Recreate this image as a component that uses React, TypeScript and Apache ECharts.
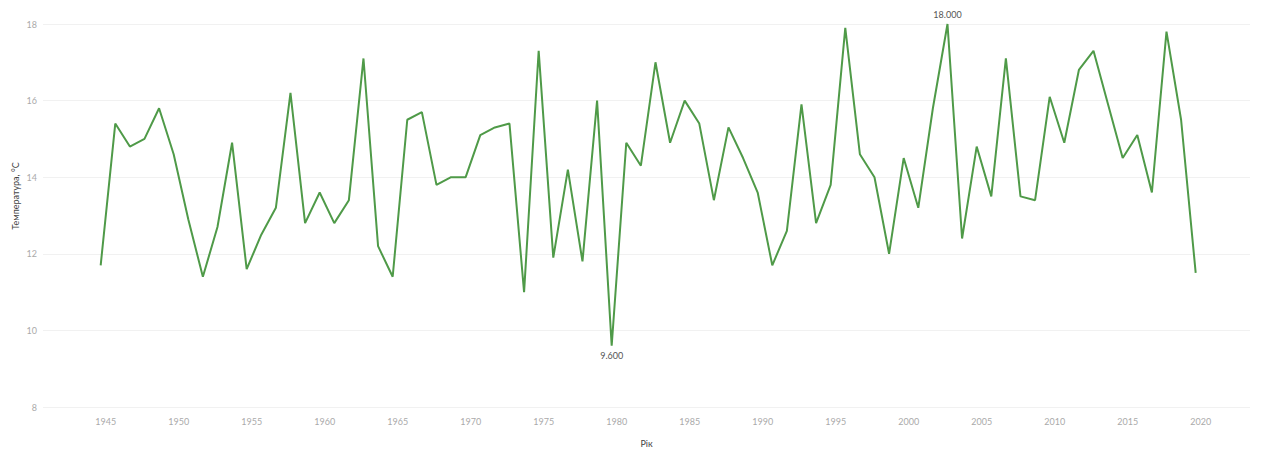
import React, { useEffect, useRef } from "react";
import * as echarts from "echarts";

const years: number[] = [
  1945, 1946, 1947, 1948, 1949, 1950, 1951, 1952, 1953, 1954,
  1955, 1956, 1957, 1958, 1959, 1960, 1961, 1962, 1963, 1964,
  1965, 1966, 1967, 1968, 1969, 1970, 1971, 1972, 1973, 1974,
  1975, 1976, 1977, 1978, 1979, 1980, 1981, 1982, 1983, 1984,
  1985, 1986, 1987, 1988, 1989, 1990, 1991, 1992, 1993, 1994,
  1995, 1996, 1997, 1998, 1999, 2000, 2001, 2002, 2003, 2004,
  2005, 2006, 2007, 2008, 2009, 2010, 2011, 2012, 2013, 2014,
  2015, 2016, 2017, 2018, 2019, 2020,
];

const temperatures: number[] = [
  11.7, 15.4, 14.8, 15.0, 15.8, 14.6, 12.9, 11.4, 12.7, 14.9,
  11.6, 12.5, 13.2, 16.2, 12.8, 13.6, 12.8, 13.4, 17.1, 12.2,
  11.4, 15.5, 15.7, 13.8, 14.0, 14.0, 15.1, 15.3, 15.4, 11.0,
  17.3, 11.9, 14.2, 11.8, 16.0, 9.6, 14.9, 14.3, 17.0, 14.9,
  16.0, 15.4, 13.4, 15.3, 14.5, 13.6, 11.7, 12.6, 15.9, 12.8,
  13.8, 17.9, 14.6, 14.0, 12.0, 14.5, 13.2, 15.8, 18.0, 12.4,
  14.8, 13.5, 17.1, 13.5, 13.4, 16.1, 14.9, 16.8, 17.3, 15.9,
  14.5, 15.1, 13.6, 17.8, 15.5, 11.5,
];

const xTickLabels: number[] = [
  1945, 1950, 1955, 1960, 1965, 1970, 1975, 1980, 1985, 1990,
  1995, 2000, 2005, 2010, 2015, 2020,
];

const yAxisTitle = "Температура, °C";
const xAxisTitle = "Рік";

export default function App() {
  const ref = useRef<HTMLDivElement>(null);

  useEffect(() => {
    if (!ref.current) return;
    const chart = echarts.init(ref.current, null, { renderer: "svg" });

    const iMax = temperatures.indexOf(Math.max(...temperatures));
    const iMin = temperatures.indexOf(Math.min(...temperatures));
    const font = "Lato, 'Noto Sans', sans-serif";

    chart.setOption({
      animation: false,
      backgroundColor: "#ffffff",
      grid: { left: 43, right: 14, top: 24, bottom: 45, containLabel: false },
      xAxis: {
        type: "value",
        min: 1941.05,
        max: 2023.72,
        name: xAxisTitle,
        nameLocation: "middle",
        nameGap: 32,
        nameTextStyle: { color: "#444", fontSize: 9, fontFamily: font },
        axisLine: { show: false },
        axisTick: { show: false },
        splitLine: { show: false },
        axisLabel: {
          customValues: xTickLabels,
          color: "#aaa",
          fontSize: 9,
          fontFamily: font,
          margin: 10,
          padding: [0, 0, 0, 10],
          formatter: (v: number) => String(v),
        },
      },
      yAxis: {
        type: "value",
        min: 8,
        max: 18,
        interval: 2,
        axisLine: { show: false },
        axisTick: { show: false },
        splitLine: { lineStyle: { color: "#f1f1f1", width: 1 } },
        axisLabel: { color: "#aaa", fontSize: 9, fontFamily: font, margin: 6 },
      },
      graphic: [
        {
          type: "text",
          x: 15,
          y: 196,
          rotation: Math.PI / 2,
          style: {
            text: yAxisTitle,
            fill: "#444",
            fontSize: 9,
            fontFamily: font,
            align: "center",
            verticalAlign: "middle",
          },
        },
      ],
      series: [
        {
          type: "line",
          data: years.map((y, i) => [y, temperatures[i]]),
          showSymbol: false,
          lineStyle: { color: "#4f9a48", width: 2 },
          itemStyle: { color: "#4f9a48" },
          markPoint: {
            symbol: "circle",
            symbolSize: 2,
            itemStyle: { color: "rgba(0,0,0,0)" },
            data: [
              {
                coord: [years[iMax], temperatures[iMax]],
                value: temperatures[iMax],
                label: { position: "top", distance: 4 },
              },
              {
                coord: [years[iMin], temperatures[iMin]],
                value: temperatures[iMin],
                label: { position: "bottom", distance: 4 },
              },
            ],
            label: {
              show: true,
              color: "#555",
              fontSize: 9,
              fontFamily: font,
              formatter: (p: any) => Number(p.value).toFixed(3),
            },
          },
        },
      ],
    });

    return () => chart.dispose();
  }, []);

  return (
    <div
      ref={ref}
      style={{ position: "fixed", left: 0, top: 0, width: 1264, height: 453 }}
    />
  );
}
